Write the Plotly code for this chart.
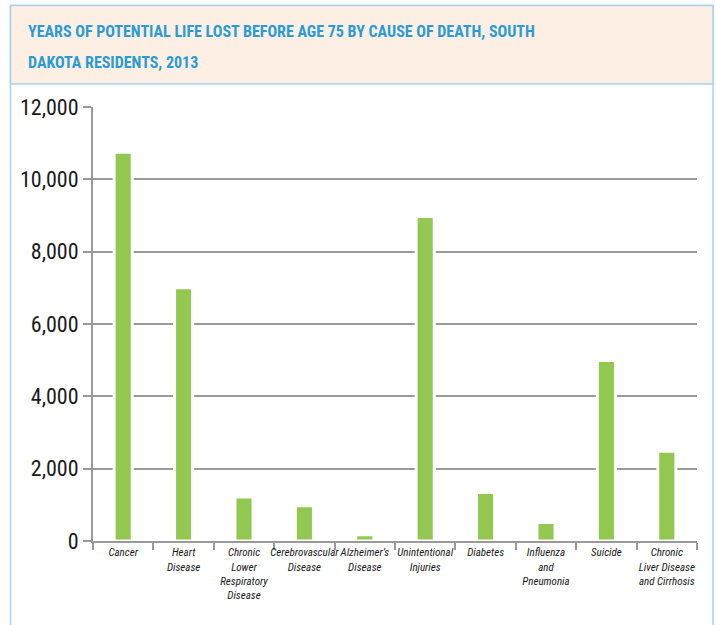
import plotly.graph_objects as go

categories = [
    "Cancer",
    "Heart<br>Disease",
    "Chronic<br>Lower<br>Respiratory<br>Disease",
    "Cerebrovascular<br>Disease",
    "Alzheimer’s<br>Disease",
    "Unintentional<br>Injuries",
    "Diabetes",
    "Influenza<br>and<br>Pneumonia",
    "Suicide",
    "Chronic<br>Liver Disease<br>and Cirrhosis",
]
ypll = [10750, 7000, 1220, 975, 170, 8970, 1340, 510, 4990, 2480]
y_ticks = [0, 2000, 4000, 6000, 8000, 10000, 12000]
y_tick_labels = ["0", "2,000", "4,000", "6,000", "8,000", "10,000", "12,000"]
title_lines = [
    "YEARS OF POTENTIAL LIFE LOST BEFORE AGE 75 BY CAUSE OF DEATH, SOUTH",
    "DAKOTA RESIDENTS, 2013",
]

W, H = 716, 625
L, R, T, B = 93, 697, 107, 541
pw, ph = R - L, B - T

def px(x):
    return (x - L) / pw

def py(y):
    return (B - y) / ph

FONT = "Roboto Condensed, Liberation Sans Narrow, Liberation Sans, sans-serif"

fig = go.Figure()
fig.add_trace(go.Bar(
    x=categories,
    y=ypll,
    width=0.3,
    marker=dict(color="#92C852", line=dict(color="white", width=3)),
    hoverinfo="x+y",
))

border = "#A8D2EE"
fig.add_shape(type="rect", xref="paper", yref="paper",
              x0=px(10.5), x1=px(713), y0=py(640), y1=py(5.5),
              line=dict(color=border, width=1.5), fillcolor="rgba(0,0,0,0)", layer="below")
fig.add_shape(type="rect", xref="paper", yref="paper",
              x0=px(10.5), x1=px(713), y0=py(84), y1=py(5.5),
              line=dict(color=border, width=1.5), fillcolor="#FDEFE3", layer="below")

title_font = dict(family=FONT, size=16, color="#2A9BD5", weight="bold")
for txt, yc in zip(title_lines, [31, 62]):
    fig.add_annotation(text=txt, xref="paper", yref="paper", x=px(26), y=py(yc),
                       xanchor="left", yanchor="middle", showarrow=False, font=title_font)

fig.update_layout(
    width=W, height=H,
    margin=dict(l=L, r=W - R, t=T, b=H - B),
    paper_bgcolor="white", plot_bgcolor="white",
    showlegend=False,
)
fig.update_xaxes(
    type="category",
    tickson="boundaries",
    ticks="outside", ticklen=7, tickwidth=2, tickcolor="#9A9A9A",
    showline=True, linecolor="#9A9A9A", linewidth=2,
    showgrid=False,
    tickangle=0,
    tickfont=dict(family=FONT, size=11, color="#1A1A1A", style="italic"),
)
fig.update_yaxes(
    range=[0, 12000],
    tickvals=y_ticks, ticktext=y_tick_labels,
    ticks="outside", ticklen=8, tickwidth=2, tickcolor="#9A9A9A",
    showline=True, linecolor="#9A9A9A", linewidth=2,
    showgrid=True, gridcolor="#9A9A9A", gridwidth=2,
    zeroline=False,
    tickfont=dict(family=FONT, size=22, color="#1A1A1A"),
)

fig.write_html("out.html")
